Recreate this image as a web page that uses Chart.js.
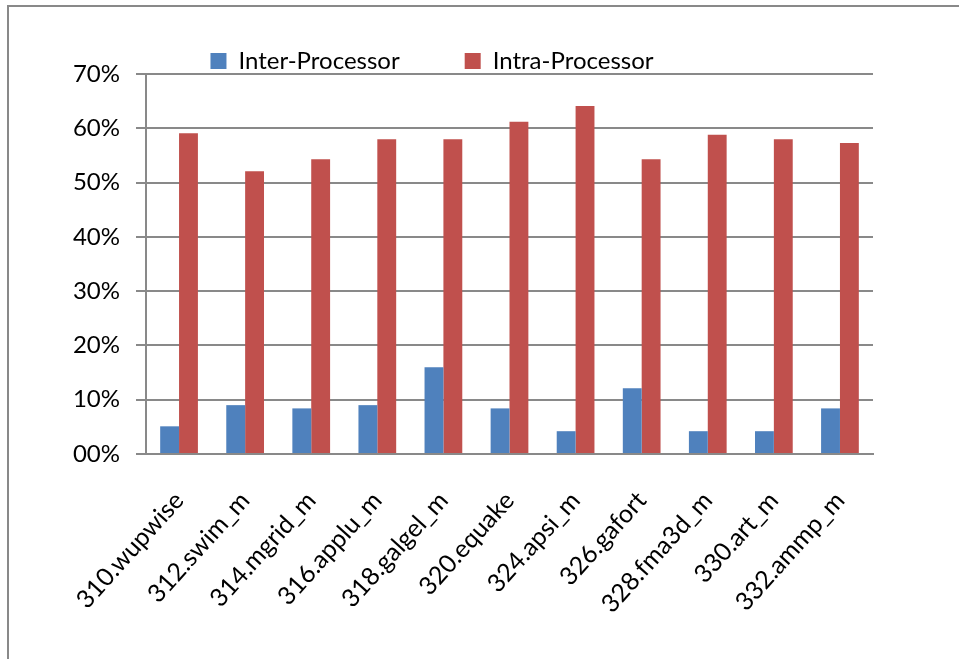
<!DOCTYPE html>
<html>
<head>
<meta charset="utf-8">
<script src="https://cdn.jsdelivr.net/npm/chart.js@4.4.1/dist/chart.umd.min.js"></script>
<style>
  html, body { margin: 0; padding: 0; background: #fff; overflow: hidden; }
  #wrap { position: relative; width: 959px; height: 659px; overflow: hidden; }
  #frame { position: absolute; left: 7px; top: 5px; width: 1200px; height: 900px; border: 2px solid #898989; }
  canvas { position: absolute; left: 0; top: 0; }
</style>
</head>
<body>
<div id="wrap">
  <div id="frame"></div>
  <canvas id="c" width="959" height="659"></canvas>
</div>
<script>
// SPEC OMP benchmarks: share of communication that is inter- vs intra-processor (%)
const benchmarks = ['310.wupwise', '312.swim_m', '314.mgrid_m', '316.applu_m', '318.galgel_m',
  '320.equake', '324.apsi_m', '326.gafort', '328.fma3d_m', '330.art_m', '332.ammp_m'];
const interProcessor = [5.1, 9.0, 8.4, 9.0, 16.0, 8.4, 4.2, 12.1, 4.2, 4.2, 8.4];
const intraProcessor = [59.1, 52.1, 54.3, 58.0, 58.0, 61.2, 64.1, 54.3, 58.8, 58.0, 57.3];
const yTickLabels = ['00%', '10%', '20%', '30%', '40%', '50%', '60%', '70%'];

const GRID = '#898989';
Chart.defaults.font.family = 'Lato, "Open Sans", sans-serif';
Chart.defaults.color = '#000';

// Keeps the legend as a short strip above the plot, with wide gaps between items
const legendPlacement = {
  id: 'legendPlacement',
  beforeLayout(chart) {
    const legend = chart.legend;
    if (legend && !legend._stripFit) {
      const fit = legend.fit;
      legend.fit = function () { fit.call(this); this.height = 74; };
      legend._stripFit = true;
    }
  },
  afterLayout(chart) {
    const legend = chart.legend;
    legend.top = -16;
    legend.height = 100;
    legend.bottom = legend.top + legend.height;
    legend.left = 0;
    legend.right = 864;
  }
};

new Chart(document.getElementById('c'), {
  type: 'bar',
  data: {
    labels: benchmarks,
    datasets: [
      { label: 'Inter-Processor', data: interProcessor, backgroundColor: '#4F81BD' },
      { label: 'Intra-Processor', data: intraProcessor, backgroundColor: '#C0504D' }
    ]
  },
  options: {
    responsive: false,
    animation: false,
    devicePixelRatio: 1,
    layout: { padding: { left: 0, right: 86, top: 0, bottom: 0 } },
    datasets: { bar: { categoryPercentage: 0.571, barPercentage: 1.0 } },
    plugins: {
      tooltip: { enabled: false },
      legend: {
        position: 'top',
        labels: {
          boxWidth: 16,
          boxHeight: 16,
          padding: 65,
          font: { size: 24 },
          color: '#000'
        }
      }
    },
    scales: {
      x: {
        grid: { display: false, drawTicks: false },
        border: { display: true, color: GRID, width: 2 },
        ticks: {
          font: { size: 25 },
          maxRotation: 48,
          minRotation: 48,
          autoSkip: false,
          padding: 32
        },
        afterFit(scale) { scale.height = 205; }
      },
      y: {
        min: 0,
        max: 70,
        ticks: {
          stepSize: 10,
          font: { size: 24 },
          padding: 16,
          callback: (value, index) => yTickLabels[index]
        },
        grid: { color: GRID, lineWidth: 2, tickLength: 10, drawTicks: true },
        border: { display: true, color: GRID, width: 2 },
        afterFit(scale) { scale.width = 146; }
      }
    }
  },
  plugins: [legendPlacement]
});
</script>
</body>
</html>
